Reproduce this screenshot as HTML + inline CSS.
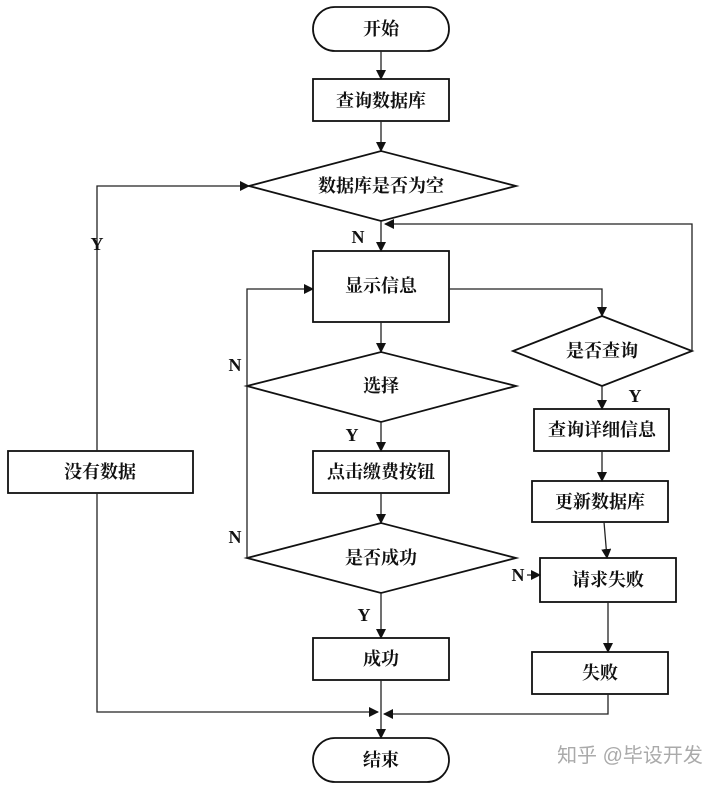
<!DOCTYPE html>
<html><head><meta charset="utf-8"><style>
html,body{margin:0;padding:0;background:#fff;}
svg text{font-family:"Liberation Serif","Noto Serif CJK SC",serif;font-size:18px;font-weight:bold;fill:#111;}
.l{font-weight:bold;font-size:18px;}
</style></head><body>
<svg width="720" height="788" viewBox="0 0 720 788" xmlns="http://www.w3.org/2000/svg">
<defs><marker id="a" markerWidth="10" markerHeight="10" refX="9" refY="5" orient="auto" markerUnits="userSpaceOnUse"><path d="M0,0 L10,5 L0,10 z" fill="#111"/></marker></defs>
<g fill="none" stroke="#111" stroke-width="1.8">
<rect x="313" y="7" width="136" height="44" rx="22"/>
<rect x="313" y="79" width="136" height="42"/>
<polygon points="249,186 381,151 516,186 381,221"/>
<rect x="313" y="251" width="136" height="71"/>
<polygon points="247,386 381,352 516,386 381,422"/>
<rect x="313" y="451" width="136" height="42"/>
<polygon points="247,558 381,523 516,558 381,593"/>
<rect x="313" y="638" width="136" height="42"/>
<rect x="313" y="738" width="136" height="44" rx="22"/>
<polygon points="513,351 602,316 692,351 602,386"/>
<rect x="534" y="409" width="135" height="42"/>
<rect x="532" y="481" width="136" height="41"/>
<rect x="540" y="558" width="136" height="44"/>
<rect x="532" y="652" width="136" height="42"/>
<rect x="8" y="451" width="185" height="42"/>
</g>
<g fill="none" stroke="#222" stroke-width="1.3" marker-end="url(#a)">
<line x1="381" y1="51" x2="381" y2="79"/>
<line x1="381" y1="121" x2="381" y2="151"/>
<line x1="381" y1="221" x2="381" y2="251"/>
<line x1="381" y1="322" x2="381" y2="352"/>
<line x1="381" y1="422" x2="381" y2="451"/>
<line x1="381" y1="493" x2="381" y2="523"/>
<line x1="381" y1="593" x2="381" y2="638"/>
<line x1="381" y1="680" x2="381" y2="738"/>
<polyline points="247,558 247,289 313,289"/>
<polyline points="449,289 602,289 602,316"/>
<polyline points="692,351 692,224 385,224"/>
<line x1="602" y1="386" x2="602" y2="409"/>
<line x1="602" y1="451" x2="602" y2="481"/>
<line x1="604" y1="522" x2="607" y2="558"/>
<line x1="608" y1="602" x2="608" y2="652"/>
<line x1="527" y1="575" x2="540" y2="575"/>
<polyline points="97,451 97,186 249,186"/>
<polyline points="97,493 97,712 378,712"/>
<polyline points="608,694 608,714 384,714"/>
</g>
<g text-anchor="middle">
<text x="381" y="35">开始</text>
<text x="381" y="107">查询数据库</text>
<text x="381" y="192">数据库是否为空</text>
<text x="381" y="292">显示信息</text>
<text x="381" y="392">选择</text>
<text x="381" y="478">点击缴费按钮</text>
<text x="381" y="564">是否成功</text>
<text x="381" y="665">成功</text>
<text x="381" y="766">结束</text>
<text x="602" y="357">是否查询</text>
<text x="602" y="436">查询详细信息</text>
<text x="600" y="508">更新数据库</text>
<text x="608" y="586">请求失败</text>
<text x="600" y="679">失败</text>
<text x="100" y="478">没有数据</text>
<text class="l" x="97" y="250">Y</text>
<text class="l" x="358" y="243">N</text>
<text class="l" x="235" y="371">N</text>
<text class="l" x="235" y="543">N</text>
<text class="l" x="352" y="441">Y</text>
<text class="l" x="364" y="621">Y</text>
<text class="l" x="635" y="402">Y</text>
<text class="l" x="518" y="581">N</text>
<text x="630" y="762" style="fill:#aaa;font-size:20px;font-weight:normal;font-family:'Liberation Sans','Noto Sans CJK SC',sans-serif">知乎 @毕设开发</text>
</g>
</svg>
</body></html>
